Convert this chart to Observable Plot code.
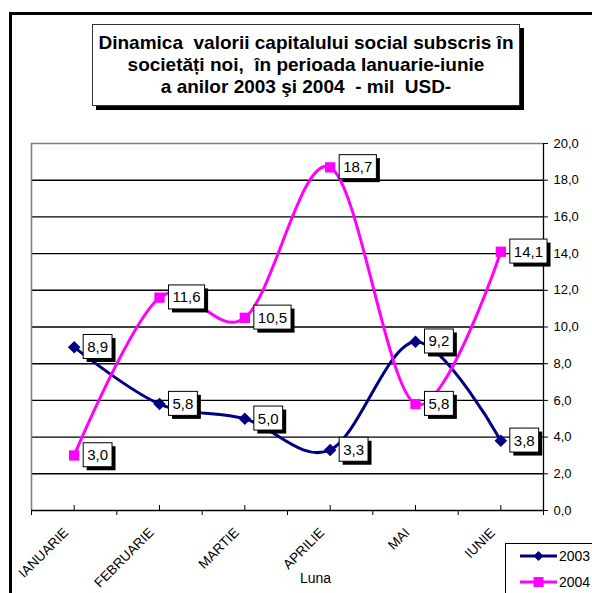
<!DOCTYPE html>
<html><head><meta charset="utf-8">
<script src="https://cdn.jsdelivr.net/npm/d3@7"></script>
<script src="https://cdn.jsdelivr.net/npm/@observablehq/plot@0.6"></script>
<style>
html,body{margin:0;padding:0;background:#fff;overflow:hidden;}
body{width:592px;height:593px;position:relative;font-family:"Liberation Sans",Arial,sans-serif;}
#frame{position:absolute;left:9px;top:12px;width:700px;height:700px;border:3px solid #000;box-sizing:border-box;}
#chart{position:absolute;left:0;top:0;}
#title{position:absolute;left:92px;top:24px;width:428px;height:82px;box-sizing:border-box;border:1px solid #333;background:#fff;box-shadow:4px 4px 0 #000;font-weight:bold;font-size:19px;line-height:22px;text-align:center;display:flex;align-items:center;justify-content:center;white-space:pre;color:#000;}
#legend{position:absolute;left:505px;top:543px;width:120px;height:80px;border:1px solid #000;background:#fff;box-sizing:border-box;}
#legend .item{position:absolute;left:14px;height:20px;display:flex;align-items:center;font-size:14px;}
</style></head><body>
<div id="frame"></div>
<div id="chart"></div>
<div id="title"></div>
<div id="legend"></div>
<script>
const titleLines = ["Dinamica  valorii capitalului social subscris în", "societăți noi,  în perioada Ianuarie-iunie", "a anilor 2003 şi 2004  - mil  USD-"];
const months = ["IANUARIE", "FEBRUARIE", "MARTIE", "APRILIE", "MAI", "IUNIE"];
const series2003 = [8.9, 5.8, 5.0, 3.3, 9.2, 3.8];
const series2004 = [3.0, 11.6, 10.5, 18.7, 5.8, 14.1];
const seriesNames = ["2003", "2004"];
const seriesColors = ["#000080", "#FF00FF"];
const seriesSymbols = ["diamond", "square"];
const yTicks = [0, 2, 4, 6, 8, 10, 12, 14, 16, 18, 20];
const xTitle = "Luna";

document.getElementById("title").textContent = titleLines.join("\n");

const fmt = d => d.toFixed(1).replace(".", ",");
const seriesValues = [series2003, series2004];
const rows = seriesNames.flatMap((s, k) => seriesValues[k].map((v, i) => ({i, month: months[i], series: s, v})));
const idx = months.map((_, i) => i);
const bounds = d3.range(months.length + 1).map(i => i - 0.5);

const marks = [
  Plot.ruleY(yTicks.filter(t => t > 0 && t < 20), {stroke: "#000", strokeWidth: 1.4}),
  Plot.ruleY([20], {stroke: "#808080", strokeWidth: 1.6}),
  Plot.ruleX([-0.5], {stroke: "#808080", strokeWidth: 1.6}),
  Plot.ruleY([0], {stroke: "#000", strokeWidth: 1.4}),
  Plot.ruleX([months.length - 0.5], {stroke: "#000", strokeWidth: 1.3}),
  Plot.axisY({anchor: "right", ticks: yTicks, tickFormat: fmt, tickSize: 4, tickPadding: 6, fontSize: 13, label: null}),
  Plot.axisX({ticks: bounds, tickSize: 5, tickFormat: () => "", label: null}),
  Plot.axisX({ticks: idx, tickSize: 5, dy: -5, tickFormat: () => "", label: null}),
  Plot.text(months, {x: (d, i) => i, text: d => d, frameAnchor: "bottom", dy: 23, dx: -5, rotate: -45, textAnchor: "end", fontSize: 13.5}),
  Plot.text([xTitle], {text: d => d, frameAnchor: "bottom", dy: 72, dx: 28, fontSize: 14}),
  Plot.line(rows, {x: "i", y: "v", z: "series", stroke: "series", strokeWidth: 3, curve: "cardinal", tension: 0})
];
seriesNames.forEach((s, k) => {
  const data = rows.filter(d => d.series === s);
  if (seriesSymbols[k] === "diamond") {
    marks.push(Plot.dot(data, {x: "i", y: "v", symbol: "square", rotate: 45, r: 5, fill: seriesColors[k], stroke: "none"}));
  } else {
    marks.push(Plot.dot(data, {x: "i", y: "v", symbol: "square", r: 5.8, fill: seriesColors[k], stroke: "none"}));
  }
});
marks.push(Plot.text(rows, {x: "i", y: "v", text: d => fmt(d.v), dx: 13, textAnchor: "start", fontSize: 15, fill: "#000"}));

const chart = Plot.plot({
  width: 592, height: 593,
  marginLeft: 31, marginRight: 49, marginTop: 143, marginBottom: 83,
  style: {fontFamily: "'Liberation Sans', Arial, sans-serif", background: "transparent", overflow: "visible", color: "#000"},
  x: {domain: [-0.5, months.length - 0.5], label: null},
  y: {domain: [0, 20], label: null},
  color: {domain: seriesNames, range: seriesColors},
  marks
});
document.getElementById("chart").appendChild(chart);

// boxes with shadow behind value labels (last text mark)
const svgNS = "http://www.w3.org/2000/svg";
const textGroups = chart.querySelectorAll('g[aria-label="text"]');
const labG = textGroups[textGroups.length - 1];
if (labG) {
  for (const t of Array.from(labG.querySelectorAll("text"))) {
    const b = t.getBBox();
    const mid = b.y + b.height / 2;
    const x0 = b.x - 4, w = b.width + 8, y0 = mid - 12, h = 24;
    const tr = t.getAttribute("transform");
    const sh = document.createElementNS(svgNS, "rect");
    sh.setAttribute("x", x0 + 3.5); sh.setAttribute("y", y0 + 3.5);
    sh.setAttribute("width", w); sh.setAttribute("height", h);
    sh.setAttribute("fill", "#000");
    const bx = document.createElementNS(svgNS, "rect");
    bx.setAttribute("x", x0); bx.setAttribute("y", y0);
    bx.setAttribute("width", w); bx.setAttribute("height", h);
    bx.setAttribute("fill", "#fff"); bx.setAttribute("stroke", "#000"); bx.setAttribute("stroke-width", 1);
    if (tr) { sh.setAttribute("transform", tr); bx.setAttribute("transform", tr); }
    labG.insertBefore(sh, t);
    labG.insertBefore(bx, t);
  }
}

// legend
const leg = document.getElementById("legend");
seriesNames.forEach((s, k) => {
  const item = document.createElement("div");
  item.className = "item";
  item.style.top = (2 + k * 26) + "px";
  const marker = seriesSymbols[k] === "diamond"
    ? `<rect x="15" y="6.5" width="7" height="7" transform="rotate(45 18.5 10)" fill="${seriesColors[k]}"/>`
    : `<rect x="13.5" y="5" width="10" height="10" fill="${seriesColors[k]}"/>`;
  item.innerHTML = `<svg width="38" height="20" style="display:block"><line x1="0" x2="37" y1="10" y2="10" stroke="${seriesColors[k]}" stroke-width="3"/>${marker}</svg><span style="margin-left:1px">${s}</span>`;
  leg.appendChild(item);
});
</script>
</body></html>
